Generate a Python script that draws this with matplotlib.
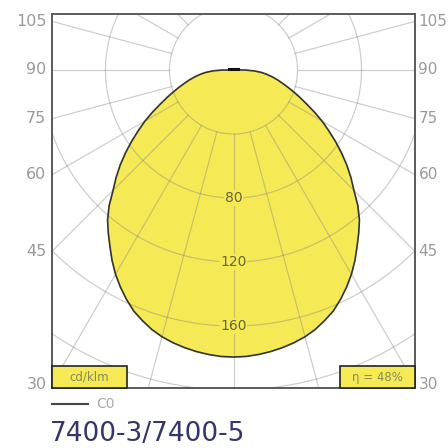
import numpy as np
import matplotlib.pyplot as plt
from matplotlib.patches import Rectangle

# Luminous intensity (cd/klm), symmetric C0 plane
gamma = [0, 2.5, 5, 7.5, 10, 12.5, 15, 17.5, 20, 22.5, 25, 27.5, 30, 32.5,
         35, 37.5, 40, 42.5, 45, 47.5, 50, 52.5, 55, 57.5, 60, 62.5, 65,
         67.5, 70, 72.5, 75, 77.5, 80, 82.5, 85, 87.5, 90]
intensity = [179.4, 179.2, 178.5, 177.5, 176.2, 174.6, 172.6, 170, 166.6,
             163, 158.2, 153, 147.4, 141.2, 134.6, 128.5, 122.4, 115, 106.4,
             99.5, 92.4, 85, 77.7, 70.5, 63.9, 57, 50.5, 45, 40, 35.5, 31.5,
             28, 24.5, 21, 17.5, 13, 7]

rings = [40, 80, 120, 160, 200, 240]
ring_labels = [80, 120, 160]
edge_angles = [30, 45, 60, 75, 90, 105]
spoke_step = 15

legend_name = "C0"
units = "cd/klm"
efficiency = "η = 48%"
title = "7400-3/7400-5"

yellow = "#f5ea55"

fig = plt.figure(figsize=(4.48, 4.48), dpi=100)
ax = fig.add_axes([52 / 448, 1 - 388 / 448, 363 / 448, 374 / 448])
xmax = 113.4
ax.set_xlim(-xmax, xmax)
ax.set_ylim(-198.75, 35)
ax.set_xticks([])
ax.set_yticks([])
for sp in ax.spines.values():
    sp.set_color("#5a5a5a")
    sp.set_linewidth(1.4)

# curve: right half then mirrored left half, closed through the origin
g = np.radians(gamma)
r = np.array(intensity)
xr = r * np.sin(g)
yr = -r * np.cos(g)
xs = np.concatenate([[0], xr[::-1], -xr[1:], [0]])
ys = np.concatenate([[0], yr[::-1], yr[1:], [0]])
ax.fill(xs, ys, color=yellow, zorder=1)

# polar grid
t = np.linspace(0, 2 * np.pi, 400)
for rr in rings:
    ax.plot(rr * np.sin(t), rr * np.cos(t), color="#808080", alpha=0.38,
            lw=0.9, zorder=2)
for a in range(0, 360, spoke_step):
    ar = np.radians(a)
    ax.plot([rings[0] * np.sin(ar), 400 * np.sin(ar)],
            [-rings[0] * np.cos(ar), -400 * np.cos(ar)],
            color="#808080", alpha=0.38, lw=0.9, zorder=2)

ax.plot(xs, ys, color="#333333", lw=1.2, zorder=3, solid_joinstyle="round")
ax.plot([-2.5, 2.5], [0.6, 0.6], color="#111111", lw=2.2, zorder=3)

for v in ring_labels:
    ax.text(0, -v, str(v), ha="center", va="center", fontsize=10,
            color="#66663a", zorder=4,
            bbox=dict(facecolor=yellow, edgecolor="none", pad=0.5))

# angle labels where the spokes meet the frame
for a in edge_angles:
    ar = np.radians(a)
    y = -xmax * np.cos(ar) / np.sin(ar)
    ax.annotate(str(a), xy=(-xmax, y), xytext=(-4, 0), textcoords="offset points",
                ha="right", va="center", fontsize=11.5, color="#9a9a9a",
                annotation_clip=False)
    ax.annotate(str(a), xy=(xmax, y), xytext=(2.5, 0), textcoords="offset points",
                ha="left", va="center", fontsize=11, color="#9a9a9a",
                annotation_clip=False)

# boxes in the lower corners
for x0, txt in [(0.0, units), (0.793, efficiency)]:
    ax.add_patch(Rectangle((x0, 0.0), 0.207, 0.058, transform=ax.transAxes,
                           facecolor=yellow, edgecolor="#222222", lw=1.2,
                           zorder=5, clip_on=False))
    ax.text(x0 + 0.1035, 0.029, txt, transform=ax.transAxes, ha="center",
            va="center", fontsize=8.5, color="#8a8a55", zorder=6)

# legend and title below
fig.add_artist(plt.Line2D([52 / 448, 88 / 448], [1 - 404 / 448] * 2,
                          color="#444444", lw=1.5))
fig.text(96 / 448, 1 - 404 / 448, legend_name, ha="left", va="center",
         fontsize=10, color="#aaaaaa")
fig.text(50 / 448, 1 - 434 / 448, title, ha="left", va="center",
         fontsize=19, color="#34346e")

fig.savefig("out.png", dpi=100)
